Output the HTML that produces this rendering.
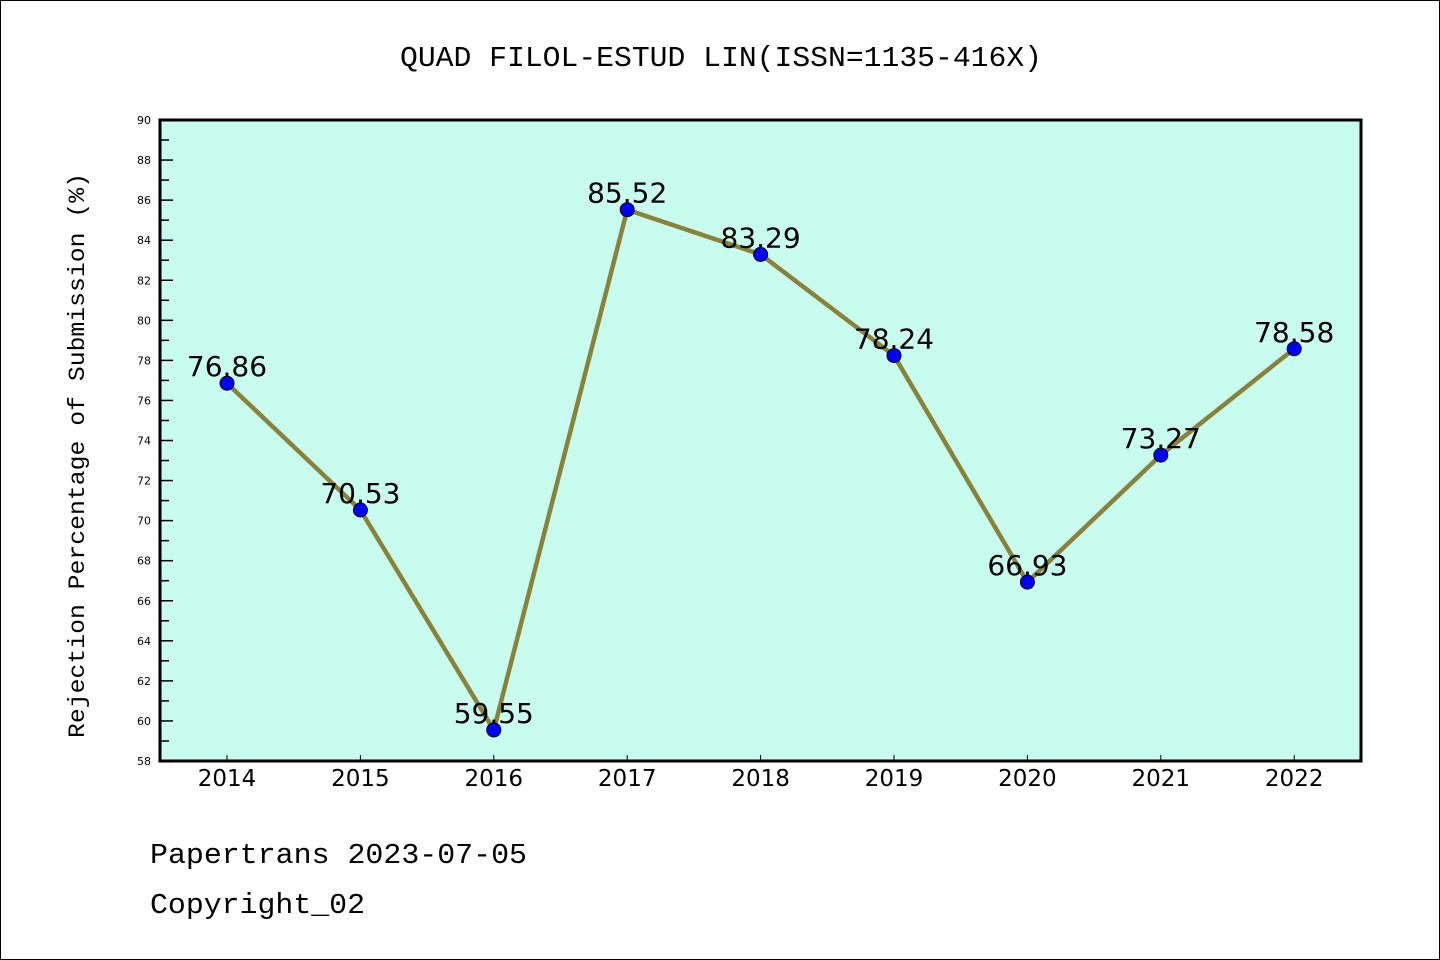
<!DOCTYPE html>
<html><head><meta charset="utf-8"><style>body{margin:0;background:#fff}svg{display:block}</style></head>
<body>
<svg width="1440" height="960" xmlns="http://www.w3.org/2000/svg" font-family="'Liberation Mono','DejaVu Sans Mono',monospace">
<rect x="0.5" y="0.5" width="1439" height="959" fill="#fff" stroke="#000"/>
<text x="400" y="66" font-size="29" textLength="642" lengthAdjust="spacingAndGlyphs">QUAD FILOL-ESTUD LIN(ISSN=1135-416X)</text>
<rect x="160" y="120" width="1201" height="641" fill="#c8fcee"/>
<g id="yticks"></g><g id="xticks"></g><g id="series"></g>
<rect x="160" y="120" width="1201" height="641" fill="none" stroke="#000" stroke-width="3"/>
<text transform="translate(84,738) rotate(-90)" font-size="23" textLength="565" lengthAdjust="spacingAndGlyphs">Rejection Percentage of Submission (%)</text>
<text x="150" y="863" font-size="29" textLength="377" lengthAdjust="spacingAndGlyphs">Papertrans 2023-07-05</text>
<text x="150" y="913" font-size="29" textLength="215" lengthAdjust="spacingAndGlyphs">Copyright_02</text>
</svg>
<script>
const years=["2014","2015","2016","2017","2018","2019","2020","2021","2022"];
const values=[76.86,70.53,59.55,85.52,83.29,78.24,66.93,73.27,78.58];
const labels=["76.86","70.53","59.55","85.52","83.29","78.24","66.93","73.27","78.58"];
const yMin=58,yMax=90;
const NS="http://www.w3.org/2000/svg";
function xs(i){return 227+i*133.4;}
function ys(v){return 761-(v-yMin)/(yMax-yMin)*641;}
function mk(t,a,p,txt){const e=document.createElementNS(NS,t);for(const k in a)e.setAttribute(k,a[k]);if(txt!==undefined)e.textContent=txt;p.appendChild(e);return e;}
const yt=document.getElementById('yticks');
for(let v=yMin;v<=yMax;v++){
  const y=ys(v),maj=v%2===0;
  const l=mk('line',{x1:160,x2:160+(maj?13:9),y1:y,y2:y,stroke:'#000','stroke-width':1.5},yt);
  
  
  if(maj){const t=mk('text',{x:151,y:y+4,'text-anchor':'end','font-size':11,'font-family':'DejaVu Sans, sans-serif'},yt,String(v));
  
  }
}
const xt=document.getElementById('xticks');
years.forEach((yr,i)=>{
  const x=xs(i);
  const l=mk('line',{x1:x,x2:x,y1:761,y2:755,stroke:'#000','stroke-width':1},xt);
  
  
  const t=mk('text',{x:x,y:786,'text-anchor':'middle','font-size':23,'font-family':'DejaVu Sans, sans-serif'},xt,yr);
  
  
});
const s=document.getElementById('series');
const pl=mk('polyline',{points:values.map((v,i)=>xs(i)+','+ys(v)).join(' '),fill:'none',stroke:'#8a8238','stroke-width':4.5},s);


values.forEach((v,i)=>{
  const c=mk('circle',{cx:xs(i),cy:ys(v),r:7,fill:'#0000ff',stroke:'#000','stroke-width':1},s);
  
  
  const t=mk('text',{x:xs(i),y:ys(v)-7,'text-anchor':'middle','font-size':28,'font-family':'DejaVu Sans, sans-serif'},s,labels[i]);
  
  
});
</script>
</body></html>
